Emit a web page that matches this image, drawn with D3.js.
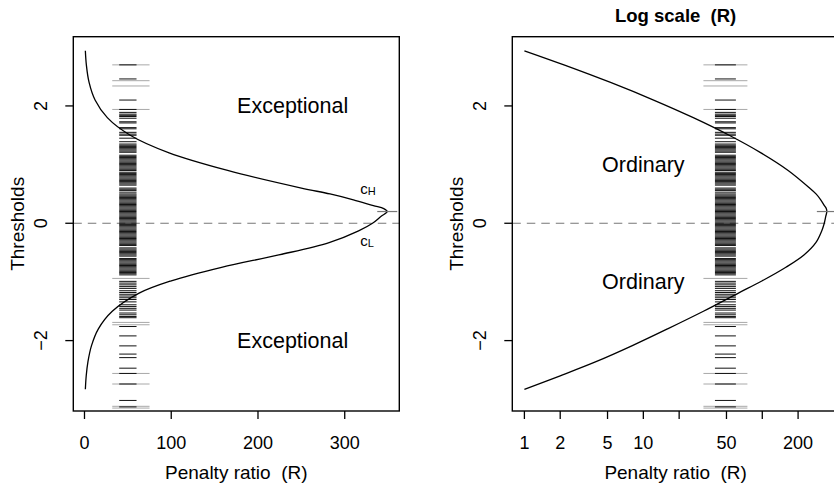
<!DOCTYPE html>
<html>
<head>
<meta charset="utf-8">
<script src="https://cdn.jsdelivr.net/npm/d3@7"></script>
<style>
  body { margin: 0; background: #fff; }
  svg { display: block; }
  text { font-family: "Liberation Sans", Arial, Helvetica, sans-serif; fill: #000; white-space: pre; }
</style>
</head>
<body>
<svg id="chart" width="834" height="486"></svg>
<script>
// threshold curves (R = penalty ratio)
// upper branch c_H, from R = 1 up to the tip
const highR = [1, 2.15, 5.3, 12.2, 26.3, 52.7, 97.5, 165, 250, 283, 310, 333, 345];
const highC = [2.94, 2.70, 2.40, 2.10, 1.80, 1.50, 1.20, 0.90, 0.60, 0.50, 0.40, 0.30, 0.25];
// lower branch c_L, from R = 1 up to the tip
const lowR = [1, 2, 4, 8, 16, 32, 63, 100, 158, 224, 282, 316, 332, 342];
const lowC = [-2.83, -2.60, -2.36, -2.09, -1.80, -1.50, -1.19, -0.98, -0.75, -0.54, -0.33, -0.13, 0.00, 0.12];
const peakR = 349, peakC = 0.2;

// rug of observed thresholds, drawn at R ~ 50
const rugDark = [2.70, 2.46, 2.10, 1.94, 1.89, 1.86, 1.84, 1.82, 1.79, 1.73, 1.71, 1.63, 1.61, 1.55, 1.52, 1.50, 1.45, 1.39,
  1.35, 1.33, 1.31, 1.29, 1.27, 1.25, 1.23, 1.21, 1.16, 1.14, 1.12, 1.10, 1.08, 1.06, 1.04, 1.02, 1.00, 0.98, 0.96, 0.94,
  0.92, 0.90, 0.87, 0.85, 0.83, 0.81, 0.79, 0.77, 0.75, 0.73, 0.71, 0.69, 0.67, 0.65, 0.60, 0.58, 0.56, 0.53, 0.50, 0.48,
  0.46, 0.44, 0.42, 0.40, 0.38, 0.36, 0.34, 0.32, 0.30, 0.28, 0.26, 0.24, 0.22, 0.20, 0.18, 0.16, 0.14, 0.12, 0.10, 0.08,
  0.06, 0.04, 0.02, 0.00, -0.02, -0.04, -0.06, -0.08, -0.10, -0.12, -0.14, -0.16, -0.18, -0.20, -0.22, -0.24, -0.26, -0.28,
  -0.30, -0.32, -0.34, -0.36, -0.38, -0.42, -0.44, -0.46, -0.48, -0.50, -0.52, -0.54, -0.56, -0.60, -0.62, -0.64, -0.66,
  -0.68, -0.70, -0.72, -0.74, -0.76, -0.78, -0.80, -0.82, -0.84, -0.86, -0.88, -0.99, -1.02, -1.05, -1.08, -1.11, -1.15,
  -1.18, -1.21, -1.24, -1.27, -1.30, -1.34, -1.39, -1.42, -1.45, -1.48, -1.53, -1.56, -1.59, -1.61, -1.76, -1.92, -2.09,
  -2.23, -2.29, -2.47, -2.56, -2.74, -3.02, -3.13];
const rugGrey = [2.70, 2.43, 2.34, 1.94, -0.94, -1.69, -1.73, -2.56, -2.74, -3.12, -3.15];
const rugDarkSpan = [40, 60];
const rugGreySpan = [32, 75];

const linTicks = [0, 100, 200, 300];
const logTicks = [1, 2, 5, 10, 20, 50, 100, 200];
const logLabels = [1, 2, 5, 10, 50, 200];
const yTicks = [-2, 0, 2];

const svg = d3.select("#chart");
const plotTop = 36.7, plotBottom = 411;

const y = d3.scaleLinear().domain([-3.2, 3.18]).range([plotBottom, plotTop]);

// one list of points going down the upper branch, round the tip and back along the lower one
const curvePts = highR.map((r, i) => [r, highC[i]])
  .concat([[peakR, peakC]])
  .concat(lowR.map((r, i) => [r, lowC[i]]).reverse());

function fmt(v) { return v < 0 ? "\u2212" + Math.abs(v) : String(v); }

function panel(x, left, right, opts) {
  const g = svg.append("g");

  // dashed zero line
  g.append("line")
    .attr("x1", left).attr("x2", right)
    .attr("y1", y(0)).attr("y2", y(0))
    .attr("stroke", "#777").attr("stroke-width", 1.2)
    .attr("stroke-dasharray", "8.5,6");

  // rug: long grey marks first, short dark ones on top
  g.selectAll(".rugG").data(rugGrey).enter().append("line")
    .attr("x1", x(rugGreySpan[0])).attr("x2", x(rugGreySpan[1]))
    .attr("y1", d => y(d)).attr("y2", d => y(d))
    .attr("stroke", "#a8a8a8").attr("stroke-width", 1);
  g.selectAll(".rugD").data(rugDark).enter().append("line")
    .attr("x1", x(rugDarkSpan[0])).attr("x2", x(rugDarkSpan[1]))
    .attr("y1", d => y(d)).attr("y2", d => y(d))
    .attr("stroke", "#111").attr("stroke-width", 1);

  // threshold curve
  const line = d3.line()
    .x(d => x(d[0])).y(d => y(d[1]))
    .curve(d3.curveCatmullRom.alpha(0.5));
  g.append("path").datum(curvePts)
    .attr("d", line)
    .attr("fill", "none").attr("stroke", "#000").attr("stroke-width", 1.3);

  // small grey mark at the tip
  g.append("line")
    .attr("x1", x(peakR) - 10).attr("x2", x(peakR) + 10)
    .attr("y1", y(peakC)).attr("y2", y(peakC))
    .attr("stroke", "#777").attr("stroke-width", 1.2);

  // box
  g.append("rect")
    .attr("x", left).attr("y", plotTop)
    .attr("width", right - left).attr("height", plotBottom - plotTop)
    .attr("fill", "none").attr("stroke", "#000").attr("stroke-width", 1.4);

  // x axis
  const xa = g.append("g");
  xa.selectAll("line").data(opts.ticks).enter().append("line")
    .attr("x1", d => x(d)).attr("x2", d => x(d))
    .attr("y1", plotBottom).attr("y2", plotBottom + 8)
    .attr("stroke", "#000").attr("stroke-width", 1.3);
  xa.selectAll("text").data(opts.labels).enter().append("text")
    .attr("x", d => x(d)).attr("y", 443)
    .attr("text-anchor", "middle").attr("dominant-baseline", "central")
    .style("font-size", "18px")
    .text(d => d);
  g.append("text")
    .attr("x", (left + right) / 2).attr("y", 472)
    .attr("text-anchor", "middle").attr("dominant-baseline", "central")
    .style("font-size", "19px")
    .text("Penalty ratio  (R)");

  // y axis
  const ya = g.append("g");
  ya.selectAll("line").data(yTicks).enter().append("line")
    .attr("x1", left - 8).attr("x2", left)
    .attr("y1", d => y(d)).attr("y2", d => y(d))
    .attr("stroke", "#000").attr("stroke-width", 1.3);
  ya.selectAll("text").data(yTicks).enter().append("text")
    .attr("transform", d => `translate(${left - 32},${y(d)}) rotate(-90)`)
    .attr("text-anchor", "middle").attr("dominant-baseline", "central")
    .style("font-size", "18px")
    .text(fmt);
  g.append("text")
    .attr("transform", `translate(${left - 56},${(plotTop + plotBottom) / 2}) rotate(-90)`)
    .attr("text-anchor", "middle").attr("dominant-baseline", "central")
    .style("font-size", "19px")
    .text("Thresholds");

  // region labels
  opts.regions.forEach(r => {
    g.append("text")
      .attr("x", x(r.R)).attr("y", y(r.c))
      .attr("text-anchor", "middle").attr("dominant-baseline", "central")
      .style("font-size", "21.5px")
      .text(r.text);
  });
  return g;
}

// left: linear R
const xLin = d3.scaleLinear().domain([-12.9, 362.9]).range([73.3, 399.3]);
const gL = panel(xLin, 73.3, 399.3, {
  ticks: linTicks, labels: linTicks,
  regions: [{R: 240, c: 2, text: "Exceptional"}, {R: 240, c: -2, text: "Exceptional"}]
});

// c_H and c_L labels near the tip
[{R: 318, c: 0.6, sub: "H"}, {R: 318, c: -0.28, sub: "L"}].forEach(l => {
  const t = gL.append("text")
    .attr("x", xLin(l.R)).attr("y", y(l.c))
    .attr("text-anchor", "start").attr("dominant-baseline", "central")
    .style("font-size", "15px");
  t.append("tspan").text("c");
  t.append("tspan").attr("dy", 3).style("font-size", "11px").text(l.sub);
});

// right: log R
const xLog = d3.scaleLog().domain([Math.pow(10, -0.1017), Math.pow(10, 2.645)]).range([512.3, 839]);
panel(xLog, 512.3, 839, {
  ticks: logTicks, labels: logLabels,
  regions: [{R: 10, c: 1, text: "Ordinary"}, {R: 10, c: -1, text: "Ordinary"}]
});

svg.append("text")
  .attr("x", (512.3 + 839) / 2).attr("y", 15)
  .attr("text-anchor", "middle").attr("dominant-baseline", "central")
  .style("font-size", "18.5px").style("font-weight", "bold")
  .text("Log scale  (R)");
</script>
</body>
</html>
